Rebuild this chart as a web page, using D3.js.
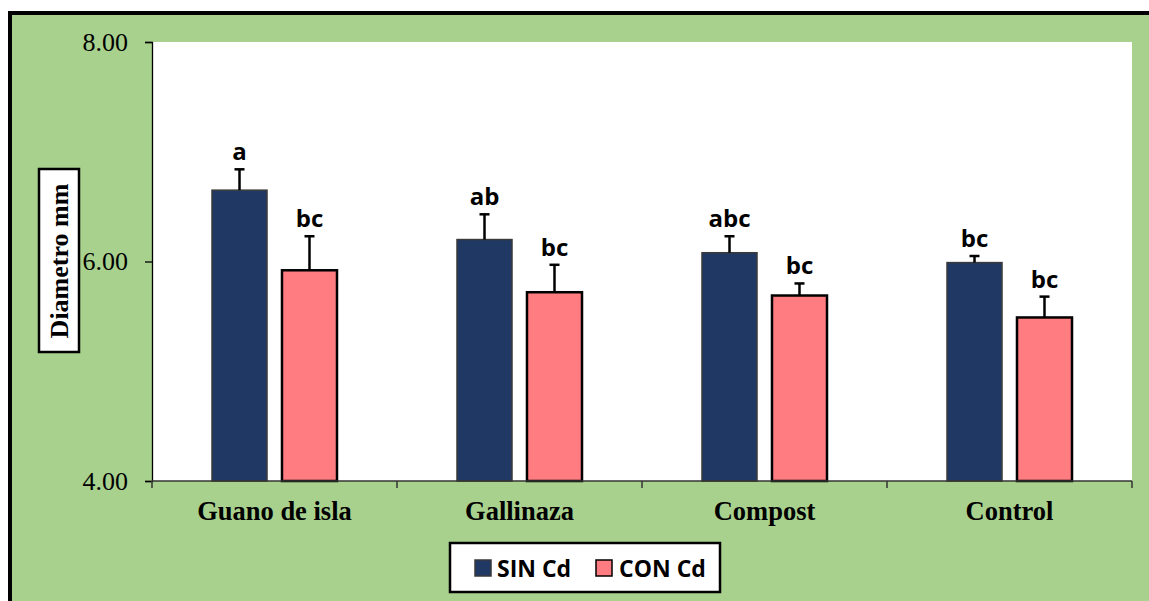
<!DOCTYPE html>
<html>
<head>
<meta charset="utf-8">
<script src="https://cdn.jsdelivr.net/npm/d3@7"></script>
<style>
  html, body { margin: 0; padding: 0; background: #ffffff; }
  svg { display: block; }
</style>
</head>
<body>
<svg id="chart" width="1149" height="601"></svg>
<script>
// Stem diameter by fertiliser treatment, with and without cadmium
const categories = ["Guano de isla", "Gallinaza", "Compost", "Control"];
const seriesNames = ["SIN Cd", "CON Cd"];
const sinCd = [6.65, 6.20, 6.08, 5.99];
const conCd = [5.92, 5.72, 5.69, 5.49];
const sinCdErr = [0.19, 0.23, 0.15, 0.06];
const conCdErr = [0.31, 0.25, 0.11, 0.19];
const sinCdLetters = ["a", "ab", "abc", "bc"];
const conCdLetters = ["bc", "bc", "bc", "bc"];
const yTicks = [4, 6, 8];
const yDomain = [4, 8];

const colors = { "SIN Cd": "#203864", "CON Cd": "#FF7C80" };
const strokes = { "SIN Cd": "#3a3a3a", "CON Cd": "#000000" };

const rows = categories.map((c, i) => ({
  category: c,
  values: [
    { series: "SIN Cd", value: sinCd[i], err: sinCdErr[i], letter: sinCdLetters[i] },
    { series: "CON Cd", value: conCd[i], err: conCdErr[i], letter: conCdLetters[i] }
  ]
}));

const svg = d3.select("#chart");

// chart background with its frame
svg.append("rect").attr("x", 10).attr("y", 13).attr("width", 1139).attr("height", 588)
  .attr("fill", "#A9D18E");
svg.append("path").attr("d", "M10,601 V13 H1149")
  .attr("fill", "none").attr("stroke", "#000").attr("stroke-width", 4);

const plot = { left: 152, right: 1132, top: 42, bottom: 481 };

svg.append("rect").attr("x", plot.left).attr("y", plot.top)
  .attr("width", plot.right - plot.left).attr("height", plot.bottom - plot.top)
  .attr("fill", "#ffffff");

const y = d3.scaleLinear().domain(yDomain).range([plot.bottom, plot.top]);
const x0 = d3.scaleBand().domain(categories).range([plot.left, plot.right]).padding(0);
const x1 = d3.scaleBand().domain(seriesNames).range([60, 185]).paddingInner(0.214).paddingOuter(0);

// bars
const groups = svg.append("g").selectAll("g").data(rows).join("g")
  .attr("transform", d => `translate(${x0(d.category)},0)`);

groups.selectAll("rect").data(d => d.values).join("rect")
  .attr("x", d => x1(d.series))
  .attr("y", d => y(d.value))
  .attr("width", x1.bandwidth())
  .attr("height", d => y(yDomain[0]) - y(d.value))
  .attr("fill", d => colors[d.series])
  .attr("stroke", d => strokes[d.series])
  .attr("stroke-width", d => d.series === "CON Cd" ? 2.5 : 1.5);

// error bars (upper half only)
const eb = groups.selectAll("g.err").data(d => d.values).join("g").attr("class", "err");
eb.append("line")
  .attr("x1", d => x1(d.series) + x1.bandwidth() / 2)
  .attr("x2", d => x1(d.series) + x1.bandwidth() / 2)
  .attr("y1", d => y(d.value))
  .attr("y2", d => y(d.value + d.err))
  .attr("stroke", "#000").attr("stroke-width", 2.5);
eb.append("line")
  .attr("x1", d => x1(d.series) + x1.bandwidth() / 2 - 5)
  .attr("x2", d => x1(d.series) + x1.bandwidth() / 2 + 5)
  .attr("y1", d => y(d.value + d.err))
  .attr("y2", d => y(d.value + d.err))
  .attr("stroke", "#000").attr("stroke-width", 2.5);

// significance letters
groups.selectAll("text.letter").data(d => d.values).join("text").attr("class", "letter")
  .attr("x", d => x1(d.series) + x1.bandwidth() / 2)
  .attr("y", d => y(d.value + d.err) - 9)
  .attr("text-anchor", "middle")
  .attr("font-family", "'Open Sans', 'Noto Sans', sans-serif")
  .attr("font-weight", "bold")
  .attr("font-size", 24)
  .attr("fill", "#000")
  .text(d => d.letter);

// y axis
const yAxis = d3.axisLeft(y).tickValues(yTicks).tickFormat(d3.format(".2f")).tickSize(7).tickPadding(17);
const yg = svg.append("g").attr("transform", `translate(${plot.left},0)`).call(yAxis);
yg.select(".domain").attr("stroke", "#000").attr("stroke-width", 1.3);
yg.selectAll(".tick line").attr("stroke", "#000").attr("stroke-width", 1.3);
yg.selectAll(".tick text")
  .attr("font-family", "'Liberation Serif', 'Times New Roman', serif")
  .attr("font-size", 26).attr("fill", "#000");

// x axis: ticks mark category boundaries
const xAxisG = svg.append("g").attr("transform", `translate(0,${plot.bottom})`);
xAxisG.append("line").attr("x1", plot.left).attr("x2", plot.right).attr("y1", 0).attr("y2", 0)
  .attr("stroke", "#333").attr("stroke-width", 1.5);
const boundaries = categories.map(c => x0(c)).concat([plot.right]);
xAxisG.selectAll("line.tick").data(boundaries).join("line").attr("class", "tick")
  .attr("x1", d => d).attr("x2", d => d).attr("y1", 0).attr("y2", 7)
  .attr("stroke", "#333").attr("stroke-width", 1.5);
xAxisG.selectAll("text").data(categories).join("text")
  .attr("x", d => x0(d) + x0.bandwidth() / 2)
  .attr("y", 39)
  .attr("text-anchor", "middle")
  .attr("font-family", "'Liberation Serif', 'Times New Roman', serif")
  .attr("font-weight", "bold")
  .attr("font-size", 26.5)
  .attr("fill", "#000")
  .text(d => d);

// y axis title in a boxed label
svg.append("rect").attr("x", 39).attr("y", 169).attr("width", 40).attr("height", 183)
  .attr("fill", "#fff").attr("stroke", "#000").attr("stroke-width", 2.5);
svg.append("text")
  .attr("transform", "translate(68,261) rotate(-90)")
  .attr("text-anchor", "middle")
  .attr("font-family", "'Liberation Serif', 'Times New Roman', serif")
  .attr("font-weight", "bold")
  .attr("font-size", 26)
  .attr("fill", "#000")
  .text("Diametro mm");

// legend
const lg = svg.append("g");
lg.append("rect").attr("x", 450).attr("y", 543).attr("width", 270).attr("height", 49)
  .attr("fill", "#fff").attr("stroke", "#000").attr("stroke-width", 2.5);
const legendItems = [
  { name: seriesNames[0], sx: 475, tx: 497 },
  { name: seriesNames[1], sx: 596, tx: 619 }
];
legendItems.forEach(it => {
  lg.append("rect").attr("x", it.sx).attr("y", 560).attr("width", 16).attr("height", 16)
    .attr("fill", colors[it.name]).attr("stroke", strokes[it.name]).attr("stroke-width", 1.5);
  lg.append("text").attr("x", it.tx).attr("y", 577)
    .attr("font-family", "'Open Sans', 'Noto Sans', sans-serif")
    .attr("font-weight", "bold").attr("font-size", 23).attr("fill", "#000")
    .text(it.name);
});
</script>
</body>
</html>
